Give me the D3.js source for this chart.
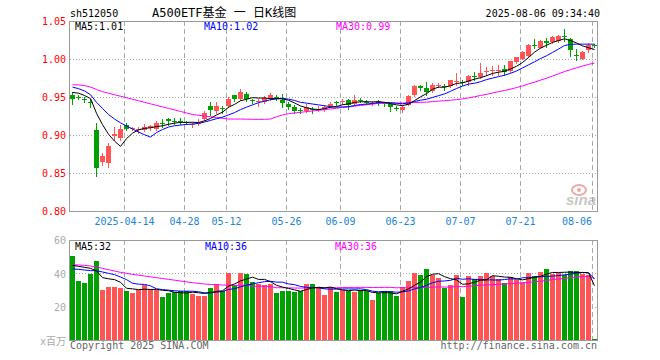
<!DOCTYPE html>
<html>
<head>
<meta charset="utf-8">
<script src="https://cdn.jsdelivr.net/npm/d3@7"></script>
<style>
  body { margin: 0; background: #fff; }
  svg { display: block; font-family: "DejaVu Sans Mono", "Noto Sans CJK SC", monospace; font-size: 10px; }
</style>
</head>
<body>
<div id="chart"></div>
<script>
// trading days shown (88)
const dates = [
  "2025-03-31","2025-04-01","2025-04-02","2025-04-03","2025-04-07","2025-04-08","2025-04-09","2025-04-10","2025-04-11","2025-04-14",
  "2025-04-15","2025-04-16","2025-04-17","2025-04-18","2025-04-21","2025-04-22","2025-04-23","2025-04-24","2025-04-25","2025-04-28",
  "2025-04-29","2025-04-30","2025-05-06","2025-05-07","2025-05-08","2025-05-09","2025-05-12","2025-05-13","2025-05-14","2025-05-15",
  "2025-05-16","2025-05-19","2025-05-20","2025-05-21","2025-05-22","2025-05-23","2025-05-26","2025-05-27","2025-05-28","2025-05-29",
  "2025-05-30","2025-06-03","2025-06-04","2025-06-05","2025-06-06","2025-06-09","2025-06-10","2025-06-11","2025-06-12","2025-06-13",
  "2025-06-16","2025-06-17","2025-06-18","2025-06-19","2025-06-20","2025-06-23","2025-06-24","2025-06-25","2025-06-26","2025-06-27",
  "2025-06-30","2025-07-01","2025-07-02","2025-07-03","2025-07-04","2025-07-07","2025-07-08","2025-07-09","2025-07-10","2025-07-11",
  "2025-07-14","2025-07-15","2025-07-16","2025-07-17","2025-07-18","2025-07-21","2025-07-22","2025-07-23","2025-07-24","2025-07-25",
  "2025-07-28","2025-07-29","2025-07-30","2025-07-31","2025-08-01","2025-08-04","2025-08-05","2025-08-06"
];

const open = [
  0.953,0.950,0.947,0.944,0.907,0.8645,0.863,0.899,0.896,0.9136,
  0.908,0.907,0.906,0.909,0.908,0.916,0.921,0.919,0.918,0.917,
  0.914,0.914,0.921,0.938,0.931,0.935,0.9386,0.952,0.948,0.9545,
  0.946,0.944,0.944,0.948,0.950,0.9465,0.941,0.937,0.933,0.931,
  0.9345,0.933,0.934,0.938,0.943,0.943,0.9455,0.941,0.9465,0.944,
  0.9415,0.944,0.9425,0.941,0.936,0.933,0.940,0.952,0.9649,0.9618,
  0.9583,0.965,0.9645,0.965,0.970,0.970,0.9697,0.977,0.9763,0.983,
  0.984,0.985,0.9868,0.9837,0.996,1.0004,1.0034,1.0178,1.0144,1.0241,
  1.0221,1.024,1.0297,1.0267,1.0058,1.000,1.0118,1.0178
];
const high = [
  0.957,0.953,0.950,0.947,0.916,0.876,0.8895,0.9105,0.9126,0.916,
  0.911,0.911,0.914,0.913,0.919,0.921,0.922,0.922,0.922,0.919,
  0.917,0.921,0.931,0.944,0.944,0.9385,0.950,0.953,0.961,0.956,
  0.948,0.947,0.951,0.955,0.952,0.954,0.944,0.939,0.935,0.941,
  0.937,0.938,0.940,0.944,0.945,0.948,0.948,0.952,0.949,0.946,
  0.945,0.946,0.944,0.942,0.9385,0.939,0.953,0.966,0.9662,0.9692,
  0.968,0.969,0.967,0.9728,0.9816,0.9728,0.9793,0.983,0.9947,0.990,
  0.991,0.9925,0.9925,0.9978,1.003,1.0103,1.0201,1.0263,1.0254,1.0273,
  1.030,1.0313,1.0392,1.027,1.0129,1.0109,1.0208,1.0195
];
const low = [
  0.941,0.947,0.943,0.937,0.8455,0.861,0.858,0.894,0.894,0.907,
  0.906,0.903,0.905,0.906,0.906,0.911,0.913,0.914,0.914,0.914,
  0.911,0.913,0.920,0.926,0.929,0.929,0.937,0.945,0.9455,0.945,
  0.942,0.938,0.942,0.946,0.946,0.937,0.934,0.929,0.929,0.930,
  0.929,0.931,0.932,0.937,0.940,0.941,0.934,0.940,0.943,0.941,
  0.940,0.939,0.938,0.932,0.933,0.930,0.939,0.951,0.9596,0.953,
  0.956,0.9626,0.9596,0.9635,0.9662,0.966,0.966,0.9728,0.9754,0.9793,
  0.9793,0.9793,0.9793,0.9826,0.995,0.9997,1.0024,1.0142,1.0142,1.0162,
  1.0208,1.0228,1.0241,1.0043,0.9987,0.9997,1.0096,1.0155
];
const close = [
  0.948,0.949,0.946,0.943,0.857,0.873,0.886,0.901,0.908,0.908,
  0.909,0.908,0.9105,0.912,0.916,0.914,0.918,0.918,0.917,0.916,
  0.915,0.916,0.929,0.933,0.9385,0.934,0.9478,0.948,0.957,0.948,
  0.945,0.945,0.949,0.952,0.949,0.942,0.937,0.931,0.932,0.9375,
  0.933,0.934,0.937,0.941,0.942,0.945,0.940,0.9465,0.945,0.943,
  0.9425,0.943,0.941,0.937,0.935,0.9375,0.9517,0.965,0.9618,0.956,
  0.9662,0.966,0.9639,0.9718,0.9715,0.9697,0.978,0.9763,0.9816,0.9842,
  0.985,0.986,0.9824,0.9968,1.002,1.0096,1.0188,1.0172,1.0241,1.0204,
  1.0287,1.0307,1.0293,1.0116,1.0053,1.0096,1.0184,1.0172
];
// volume, 百万
const volume = [
  50.2,35.6,34.4,39.4,47.6,30.2,32.0,32.0,31.4,29.6,
  28.4,29.8,33.2,30.6,30.0,25.6,28.4,28.6,29.2,29.4,
  27.8,26.6,26.6,31.4,33.6,29.6,40.4,33.2,40.4,39.4,
  35.0,33.8,33.2,33.8,28.4,29.6,29.6,29.0,29.6,33.8,
  33.8,32.0,27.2,32.0,29.0,30.2,29.6,29.0,30.2,29.6,
  24.2,28.4,29.6,29.6,26.6,32.0,35.6,40.4,39.2,42.8,
  39.2,37.4,31.4,33.2,39.2,26.0,38.6,36.8,38.6,40.4,
  38.6,36.8,34.4,38.0,36.2,35.0,40.4,38.6,41.0,42.8,
  39.8,40.4,39.2,41.6,41.6,39.8,39.2,0.8
];

// MA values before a full window is available
const ma5Head  = [0.956,0.955,0.952,0.948];
const ma10Head = [0.963,0.961,0.958,0.953,0.943,0.935,0.927,0.921,0.916];
const ma30Head = [0.966,0.966,0.965,0.963,0.960,0.957,0.955,0.953,0.951,0.949,
                  0.947,0.945,0.943,0.941,0.939,0.937,0.935,0.933,0.931,0.929,
                  0.927,0.926,0.925,0.924,0.923,0.922,0.921,0.921,0.921];
const volMa5Head  = [44.8,44.2,43.6,43.0];
const volMa10Head = [42.6,42.4,42.0,41.6,41.6,40.8,40.0,39.2,37.8];
const volMa30Head = [45.2,45.0,44.8,44.4,43.8,43.0,42.2,41.4,40.6,40.0,
                     39.4,38.9,38.4,37.9,37.4,36.9,36.4,35.9,35.4,34.9,
                     34.4,34.0,33.6,33.3,33.2,33.0,32.9,32.8,32.8];

const priceTicks = [1.05, 1.00, 0.95, 0.90, 0.85, 0.80];
const volTicks   = [60, 40, 20];
const tickDates  = ["2025-04-14","2025-04-28","2025-05-12","2025-05-26","2025-06-09","2025-06-23","2025-07-07","2025-07-21","2025-08-06"];
const tickLabels = ["2025-04-14","04-28","05-12","05-26","06-09","06-23","07-07","07-21","08-06"];

function movingAvg(arr, n, head) {
  return arr.map((_, i) => i < n - 1 ? head[i] : d3.mean(arr.slice(i - n + 1, i + 1)));
}

const W = 660, H = 360;
const L = 70, R = 598;
const pTop = 21, pBot = 211, vTop = 240, vBot = 340;
const RED = "#ff5555", GREEN = "#00a000", FRAME = "#999", GRID = "#aaa";

const svg = d3.select("#chart").append("svg").attr("width", W).attr("height", H);

const x  = d3.scaleBand().domain(dates).range([L, R]);
const yP = d3.scaleLinear().domain([0.80, 1.05]).range([pBot, pTop]);
const yV = d3.scaleLinear().domain([0, 60]).range([vBot, vTop]);
const cx = d => x(d) + 2.5;
const crisp = v => Math.round(v) + 0.5;

const rows = dates.map((d, i) => ({
  d, o: open[i], h: high[i], l: low[i], c: close[i], v: volume[i],
  up: close[i] >= open[i]
}));

// header
svg.append("text").attr("x", 70).attr("y", 17).text("sh512050");
svg.append("text").attr("x", 152).attr("y", 17).style("font-size", "12px")
  .text("A500ETF基金 一 日K线图");
svg.append("text").attr("x", 600).attr("y", 17).attr("text-anchor", "end")
  .text("2025-08-06 09:34:40");

// ---------- price panel ----------
const gp = svg.append("g");

gp.selectAll("line.hgrid").data(priceTicks.slice(1, -1)).join("line")
  .attr("x1", L).attr("x2", R)
  .attr("y1", d => crisp(yP(d))).attr("y2", d => crisp(yP(d)))
  .attr("stroke", GRID).attr("stroke-dasharray", "1,2");

gp.selectAll("line.vgrid").data(tickDates).join("line")
  .attr("x1", d => x(d) + 0.5).attr("x2", d => x(d) + 0.5)
  .attr("y1", pTop).attr("y2", pBot)
  .attr("stroke", GRID).attr("stroke-dasharray", "5,3");

gp.append("rect").attr("x", L - 0.5).attr("y", pTop + 0.5)
  .attr("width", R - L).attr("height", pBot - pTop)
  .attr("fill", "none").attr("stroke", FRAME);

// y labels
gp.append("g").attr("transform", `translate(${L - 4},0.5)`)
  .call(d3.axisLeft(yP).tickValues(priceTicks).tickSize(0).tickPadding(0).tickFormat(d3.format(".2f")))
  .call(g => g.select(".domain").remove())
  .call(g => g.selectAll("text").attr("fill", "#ff0000")
    .attr("font-family", "DejaVu Sans Mono").attr("font-size", 10));
gp.attr("font-family", null);

// x labels
gp.selectAll("text.xl").data(tickDates).join("text")
  .attr("class", "xl")
  .attr("x", (d, i) => x(d) + (i === tickDates.length - 1 ? 0 : 0.5))
  .attr("y", 225)
  .attr("text-anchor", (d, i) => i === tickDates.length - 1 ? "end" : "middle")
  .attr("fill", "#1a85d6")
  .text((d, i) => tickLabels[i]);

// candles
const cg = gp.append("g");
cg.selectAll("line.wick").data(rows).join("line")
  .attr("x1", r => cx(r.d)).attr("x2", r => cx(r.d))
  .attr("y1", r => Math.round(yP(r.h))).attr("y2", r => Math.round(yP(r.l)) + 1)
  .attr("stroke", r => r.up ? RED : GREEN);
cg.selectAll("rect.body").data(rows).join("rect")
  .attr("x", r => x(r.d))
  .attr("y", r => Math.round(yP(Math.max(r.o, r.c))))
  .attr("width", x.bandwidth() - 1)
  .attr("height", r => Math.max(1, Math.round(yP(Math.min(r.o, r.c))) - Math.round(yP(Math.max(r.o, r.c)))))
  .attr("fill", r => r.up ? RED : GREEN);

// MA lines
const ma5 = movingAvg(close, 5, ma5Head);
const ma10 = movingAvg(close, 10, ma10Head);
const ma30 = movingAvg(close, 30, ma30Head);
const lineP = d3.line().x((v, i) => cx(dates[i])).y(v => yP(v));
[[ma30, "#ff00ff"], [ma10, "#0000ff"], [ma5, "#000"]].forEach(([s, col]) => {
  gp.append("path").attr("d", lineP(s)).attr("fill", "none").attr("stroke", col).attr("stroke-width", 1);
});

const f2 = d3.format(".2f");
const last = dates.length - 1;
gp.append("text").attr("x", 75).attr("y", 30).text("MA5:" + f2(ma5[last]));
gp.append("text").attr("x", 204).attr("y", 30).attr("fill", "#0000ff").text("MA10:" + f2(ma10[last]));
gp.append("text").attr("x", 336).attr("y", 30).attr("fill", "#ff00ff").text("MA30:" + f2(ma30[last]));

// sina watermark
const wm = gp.append("g").attr("opacity", 0.55);
wm.append("ellipse").attr("cx", 579).attr("cy", 190).attr("rx", 7).attr("ry", 5)
  .attr("fill", "none").attr("stroke", "#e06060").attr("stroke-width", 2);
wm.append("circle").attr("cx", 579).attr("cy", 190).attr("r", 2).attr("fill", "#e06060");
wm.append("text").attr("x", 566).attr("y", 205)
  .style("font-family", "Liberation Sans").style("font-size", "15px")
  .style("font-style", "italic").style("font-weight", "bold")
  .attr("fill", "#999").text("sina");

// ---------- volume panel ----------
const gv = svg.append("g");

gv.selectAll("line.hgrid").data(volTicks.slice(1)).join("line")
  .attr("x1", L).attr("x2", R)
  .attr("y1", d => crisp(yV(d))).attr("y2", d => crisp(yV(d)))
  .attr("stroke", GRID).attr("stroke-dasharray", "1,2");

gv.selectAll("line.vgrid").data(tickDates).join("line")
  .attr("x1", d => x(d) + 0.5).attr("x2", d => x(d) + 0.5)
  .attr("y1", vTop).attr("y2", vBot)
  .attr("stroke", GRID).attr("stroke-dasharray", "5,3");

gv.selectAll("rect.vol").data(rows).join("rect")
  .attr("x", r => x(r.d))
  .attr("y", r => Math.round(yV(r.v)))
  .attr("width", x.bandwidth() - 1)
  .attr("height", r => vBot - Math.round(yV(r.v)))
  .attr("fill", r => r.up ? RED : GREEN);

gv.append("rect").attr("x", L - 0.5).attr("y", vTop + 0.5)
  .attr("width", R - L).attr("height", vBot - vTop)
  .attr("fill", "none").attr("stroke", FRAME);

const vma5 = movingAvg(volume, 5, volMa5Head);
const vma10 = movingAvg(volume, 10, volMa10Head);
const vma30 = movingAvg(volume, 30, volMa30Head);
const lineV = d3.line().x((v, i) => cx(dates[i])).y(v => yV(v));
[[vma30, "#ff00ff"], [vma10, "#0000ff"], [vma5, "#000"]].forEach(([s, col]) => {
  gv.append("path").attr("d", lineV(s)).attr("fill", "none").attr("stroke", col).attr("stroke-width", 1);
});

gv.append("g").attr("transform", `translate(${L - 4},0.5)`)
  .call(d3.axisLeft(yV).tickValues(volTicks).tickSize(0).tickPadding(0))
  .call(g => g.select(".domain").remove())
  .call(g => g.selectAll("text").attr("fill", "#aaa")
    .attr("font-family", "DejaVu Sans Mono").attr("font-size", 10));

gv.append("text").attr("x", 75).attr("y", 250).text("MA5:" + Math.floor(vma5[last]));
gv.append("text").attr("x", 205).attr("y", 250).attr("fill", "#0000ff").text("MA10:" + Math.floor(vma10[last]));
gv.append("text").attr("x", 335).attr("y", 250).attr("fill", "#ff00ff").text("MA30:" + Math.floor(vma30[last]));

svg.append("text").attr("x", 66).attr("y", 345).attr("text-anchor", "end")
  .attr("fill", "#aaa").text("x百万");
svg.append("text").attr("x", 70).attr("y", 349).attr("fill", "#666")
  .text("Copyright 2025 SINA.COM");
svg.append("text").attr("x", 597).attr("y", 349).attr("text-anchor", "end").attr("fill", "#666")
  .text("http://finance.sina.com.cn");
</script>
</body>
</html>
